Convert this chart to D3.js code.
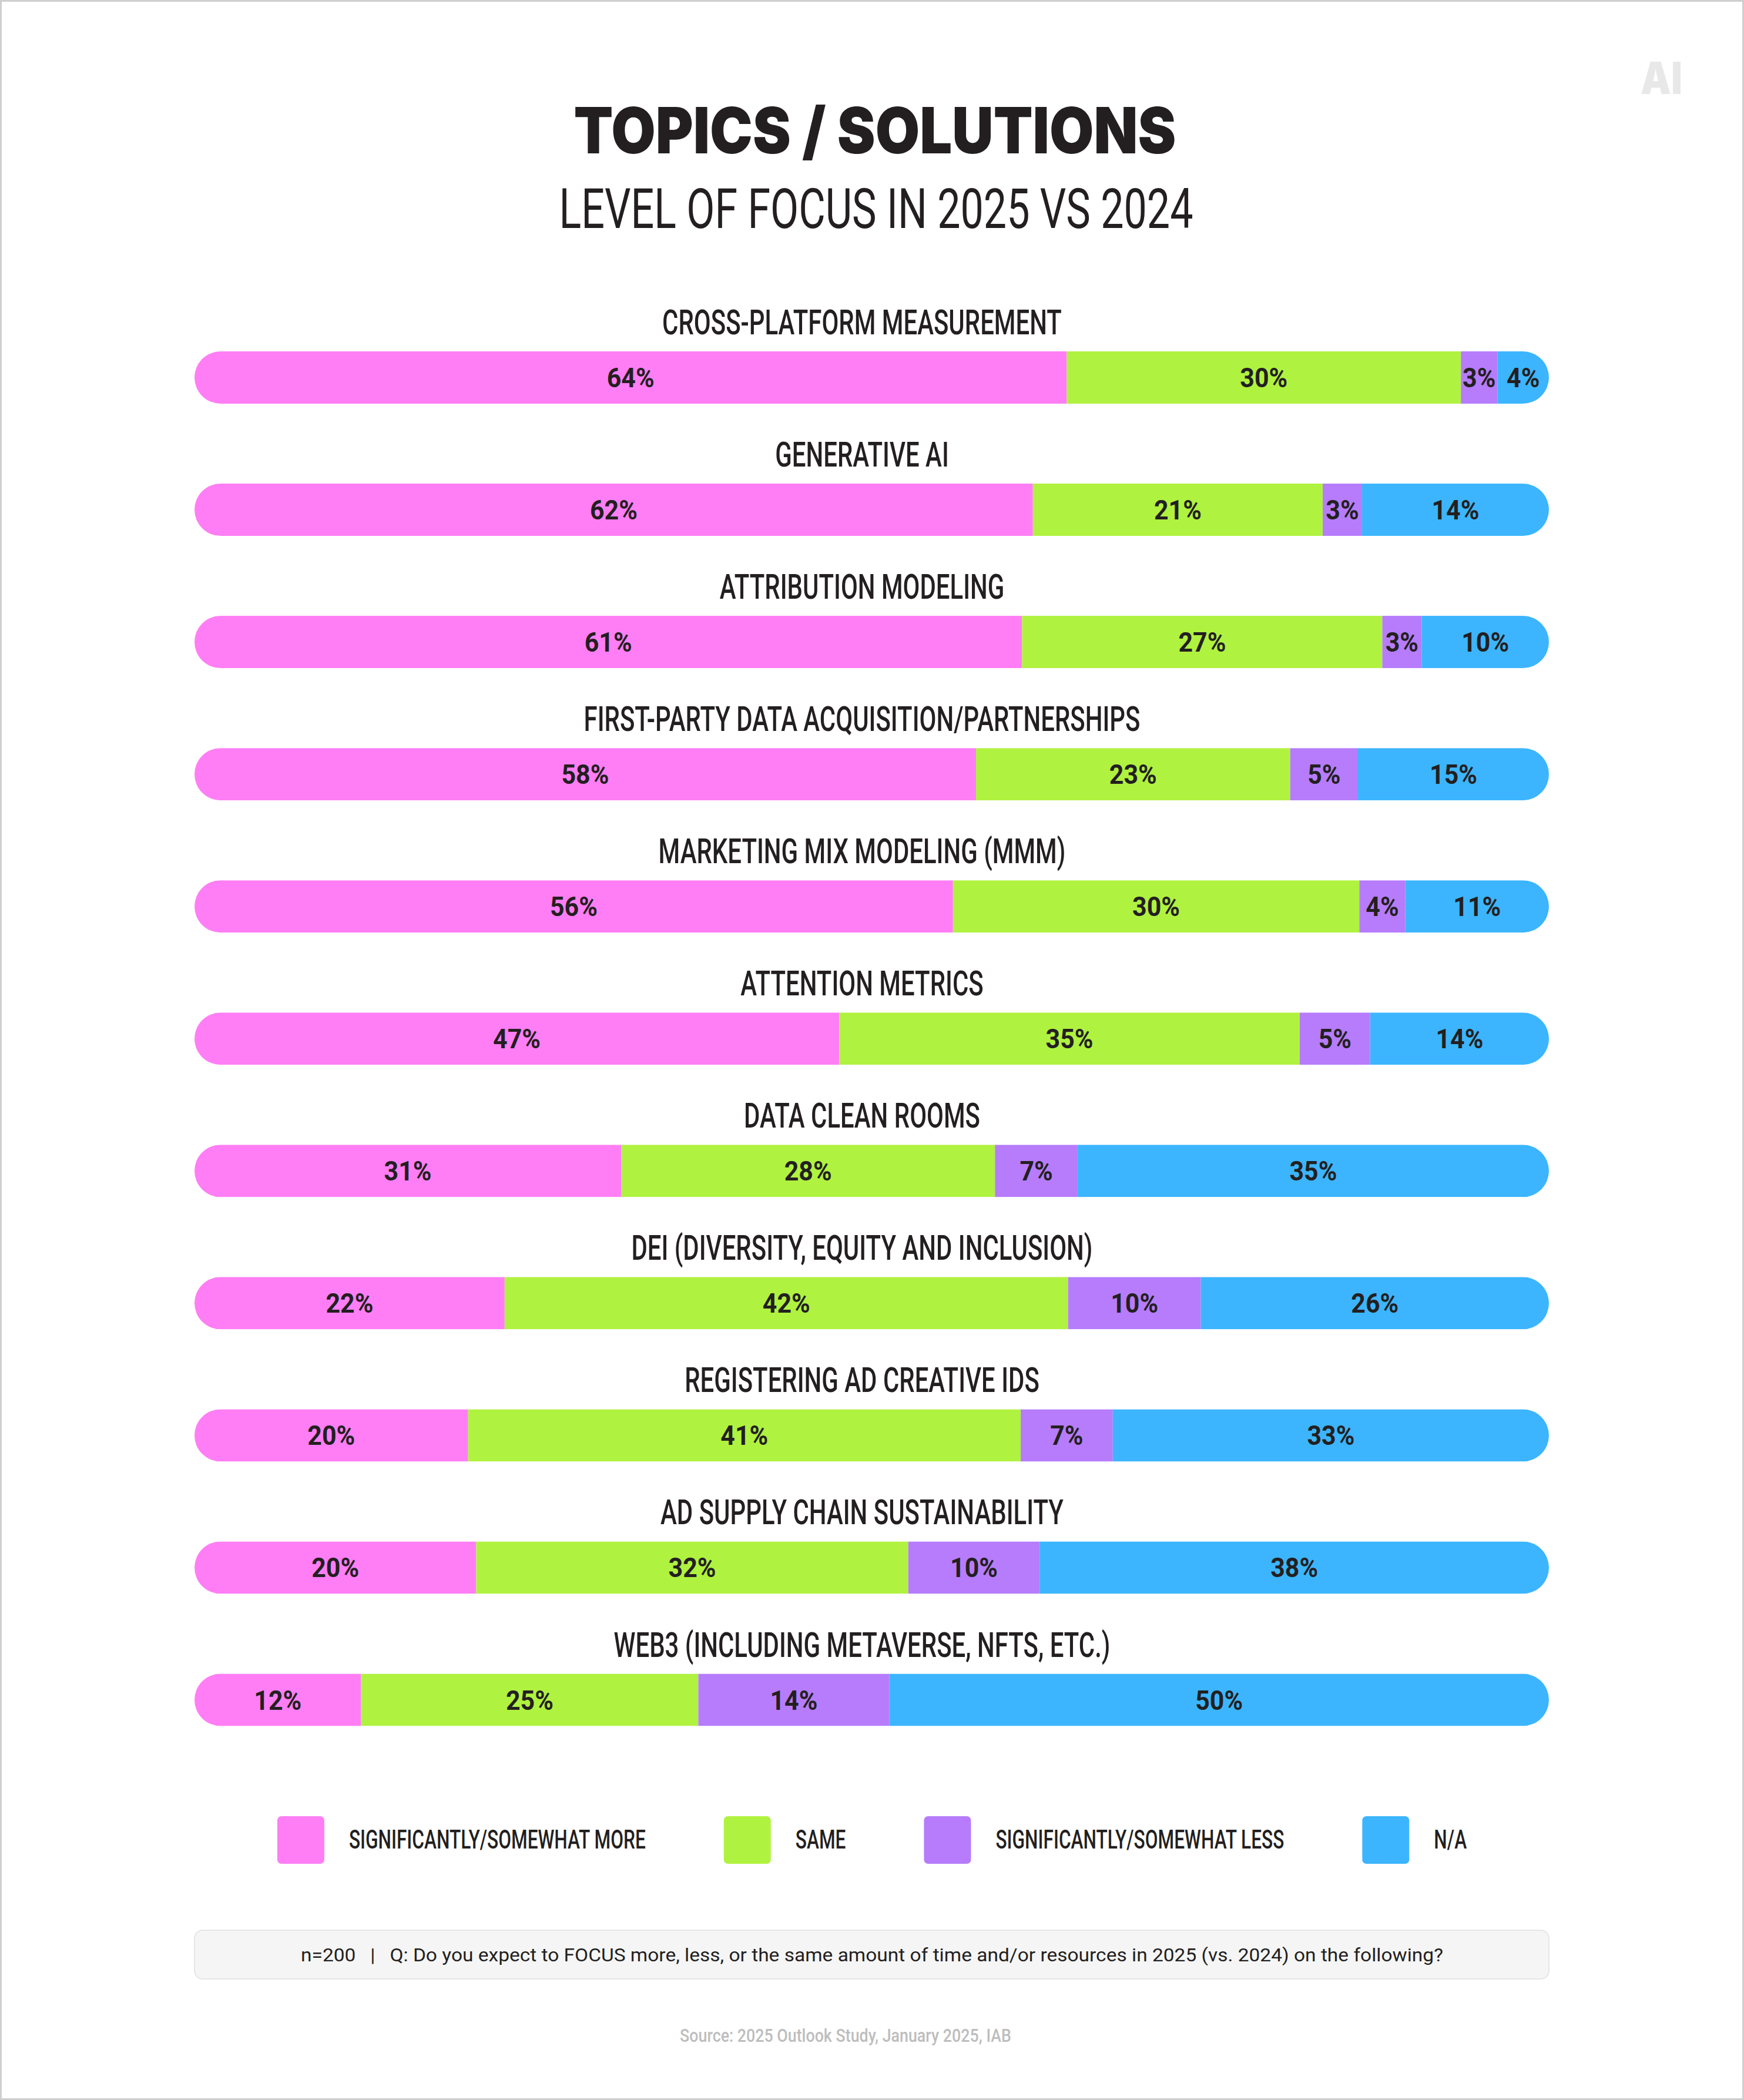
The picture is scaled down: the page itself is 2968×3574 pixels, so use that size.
<!DOCTYPE html>
<html>
<head>
<meta charset="utf-8">
<script src="https://cdn.jsdelivr.net/npm/d3@7"></script>
<style>
  body { margin: 0; background: #fff; }
  text { fill: #231f20; }
  .title { font-family: Inter, Roboto, sans-serif; font-weight: 900; font-size: 109px; }
  .subtitle { font-family: Roboto, sans-serif; font-weight: 400; font-size: 94px; }
  .topic { font-family: Roboto, sans-serif; font-weight: 500; font-size: 59px; }
  .value { font-family: Roboto, sans-serif; font-weight: 700; font-size: 46px; }
  .legend { font-family: Roboto, sans-serif; font-weight: 500; font-size: 44px; }
  .note { font-family: Roboto, sans-serif; font-weight: 400; font-size: 32px; }
  .source { font-family: Roboto, sans-serif; font-weight: 500; font-size: 31px; fill: #bdbdbd; }
  .logo { font-family: Inter, Roboto, sans-serif; font-weight: 900; font-size: 76px; fill: #e8e8e8; }
</style>
</head>
<body>
<div id="chart"></div>
<script>
// datos
const topics = [
  "CROSS-PLATFORM MEASUREMENT",
  "GENERATIVE AI",
  "ATTRIBUTION MODELING",
  "FIRST-PARTY DATA ACQUISITION/PARTNERSHIPS",
  "MARKETING MIX MODELING (MMM)",
  "ATTENTION METRICS",
  "DATA CLEAN ROOMS",
  "DEI (DIVERSITY, EQUITY AND INCLUSION)",
  "REGISTERING AD CREATIVE IDS",
  "AD SUPPLY CHAIN SUSTAINABILITY",
  "WEB3 (INCLUDING METAVERSE, NFTS, ETC.)"
];
// porcentajes impresos en las barras
const more = [64, 62, 61, 58, 56, 47, 31, 22, 20, 20, 12];
const same = [30, 21, 27, 23, 30, 35, 28, 42, 41, 32, 25];
const less = [3, 3, 3, 5, 4, 5, 7, 10, 7, 10, 14];
const na   = [4, 14, 10, 15, 11, 14, 35, 26, 33, 38, 50];

// anchos de cada tramo (sin redondear), estimados del largo de las barras
const moreShare = [64.4, 61.9, 61.1, 57.7, 56.0, 47.6, 31.5, 22.9, 20.2, 20.8, 12.3];
const sameShare = [29.1, 21.4, 26.6, 23.2, 30.0, 34.0, 27.6, 41.6, 40.8, 31.9, 24.9];
const lessShare = [2.7, 2.9, 2.9, 5.0, 3.4, 5.2, 6.1, 9.8, 6.8, 9.7, 14.1];
const naShare   = [3.8, 13.8, 9.4, 14.1, 10.6, 13.2, 34.8, 25.7, 32.2, 37.6, 48.7];

const seriesNames = ["SIGNIFICANTLY/SOMEWHAT MORE", "SAME", "SIGNIFICANTLY/SOMEWHAT LESS", "N/A"];
const seriesColors = ["#ff7ef5", "#b0f240", "#b67cfc", "#3cb5fe"];

const TITLE = "TOPICS / SOLUTIONS";
const SUBTITLE = "LEVEL OF FOCUS IN 2025 VS 2024";
const NOTE = "n=200\u00a0\u00a0\u00a0|\u00a0\u00a0\u00a0Q: Do you expect to FOCUS more, less, or the same amount of time and/or resources in 2025 (vs. 2024) on the following?";
const SOURCE = "Source: 2025 Outlook Study, January 2025, IAB";

// Tamaños
const WIDTH = 2968;
const HEIGHT = 3574;
const BAR_LEFT = 331, BAR_RIGHT = 2636, BAR_H = 89;

const SVG = d3.select("#chart").append("svg").attr("width", WIDTH).attr("height", HEIGHT);

SVG.append("rect").attr("x", 1.5).attr("y", 1.5).attr("width", WIDTH - 3).attr("height", HEIGHT - 3)
  .attr("fill", "#fff").attr("stroke", "#cfcfcf").attr("stroke-width", 3);

// las fuentes condensadas no estan, asi que se estiran en x hasta el ancho del original
function fitScale(cls, sample, target) {
  const t = SVG.append("text").attr("class", cls).text(sample);
  const w = t.node().getComputedTextLength();
  t.remove();
  return target / w;
}
function putText(parent, x, y, str, cls, k, anchor = "middle") {
  return parent.append("text").attr("class", cls).attr("text-anchor", anchor)
    .attr("transform", `translate(${x},${y}) scale(${k},1)`).text(str);
}

const kTitle = fitScale("title", TITLE, 1025);
const kSub = fitScale("subtitle", SUBTITLE, 1079);
const kTopic = fitScale("topic", topics[0], 680);
const kValue = fitScale("value", "64%", 81);
const kLegend = fitScale("legend", seriesNames[0], 505);
const kNote = fitScale("note", NOTE, 1945);
const kSource = fitScale("source", SOURCE, 564);
const kLogo = fitScale("logo", "AI", 71);

putText(SVG, 1489, 261, TITLE, "title", kTitle);
putText(SVG, 1491, 388, SUBTITLE, "subtitle", kSub);
putText(SVG, 2792, 160, "AI", "logo", kLogo, "start");

// Escalas
const y = d3.scalePoint().domain(topics).range([642.5, 2893]);
const color = d3.scaleOrdinal().domain(seriesNames).range(seriesColors);

const rows = topics.map((t, i) => {
  const labels = [more[i], same[i], less[i], na[i]];
  const shares = [moreShare[i], sameShare[i], lessShare[i], naShare[i]];
  let acc = 0;
  const segs = shares.map((v, j) => {
    const s = { serie: seriesNames[j], label: labels[j], x0: acc, x1: acc + v };
    acc += v;
    return s;
  });
  return { topic: t, total: acc, segs: segs };
});

// clip redondeado compartido por todas las filas
SVG.append("defs").append("clipPath").attr("id", "pill")
  .append("rect").attr("x", BAR_LEFT).attr("y", -BAR_H / 2)
  .attr("width", BAR_RIGHT - BAR_LEFT).attr("height", BAR_H).attr("rx", BAR_H / 2);

const row = SVG.selectAll(".row").data(rows).join("g").attr("class", "row")
  .attr("transform", d => `translate(0,${y(d.topic)})`);

row.each(function (d) {
  const g = d3.select(this);
  const x = d3.scaleLinear().domain([0, d.total]).range([BAR_LEFT, BAR_RIGHT]);

  putText(g, 1467, -73.5, d.topic, "topic", kTopic);

  g.append("g").attr("clip-path", "url(#pill)")
    .selectAll("rect").data(d.segs).join("rect")
    .attr("x", s => x(s.x0)).attr("y", -BAR_H / 2)
    .attr("width", s => x(s.x1) - x(s.x0)).attr("height", BAR_H)
    .attr("fill", s => color(s.serie));

  d.segs.forEach(s => {
    putText(g, (x(s.x0) + x(s.x1)) / 2, 16.5, s.label + "%", "value", kValue);
  });
});

// Leyenda
const legendG = SVG.append("g");
const SQ = 80, GAP_TXT = 42, GAP_ITEM = 133;
let lx = 0;
seriesNames.forEach(name => {
  const it = legendG.append("g").attr("transform", `translate(${lx},0)`);
  it.append("rect").attr("x", 0).attr("y", 3091).attr("width", SQ).attr("height", 81)
    .attr("rx", 7).attr("fill", color(name));
  const t = putText(it, SQ + GAP_TXT, 3146, name, "legend", kLegend, "start");
  lx += SQ + GAP_TXT + t.node().getComputedTextLength() * kLegend + GAP_ITEM;
});
lx -= GAP_ITEM;
legendG.attr("transform", `translate(${1484 - lx / 2},0)`);

// Nota
SVG.append("rect").attr("x", BAR_LEFT).attr("y", 3285).attr("width", BAR_RIGHT - BAR_LEFT).attr("height", 83)
  .attr("rx", 14).attr("fill", "#f5f5f5").attr("stroke", "#e6e6e6").attr("stroke-width", 2);
putText(SVG, 1484, 3338, NOTE, "note", kNote);

putText(SVG, 1439, 3475, SOURCE, "source", kSource);
</script>
</body>
</html>
